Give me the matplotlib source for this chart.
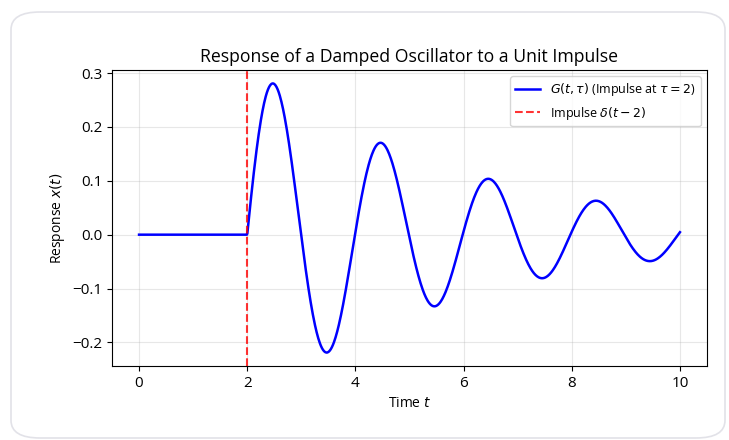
import numpy as np
import matplotlib.pyplot as plt
from matplotlib.patches import FancyBboxPatch

# parameters: impulse time, decay rate, angular frequency
tau = 2.0
gamma = 0.25
omega = 3.155
t_start, t_end = 0.0, 10.0

t = np.linspace(t_start, t_end, 1000)
s = t - tau
G = np.where(s > 0, np.exp(-gamma * s) * np.sin(omega * s) / omega, 0.0)

plt.rcParams['font.family'] = ['Open Sans', 'DejaVu Sans']

fig = plt.figure(figsize=(7.29, 4.40), dpi=100)

# rounded card behind the chart
card = FancyBboxPatch((11 / 729, 2 / 440), 714 / 729, 426 / 440,
                      boxstyle="round,pad=0,rounding_size=0.04",
                      transform=fig.transFigure, facecolor='white',
                      edgecolor='#e2e2e8', linewidth=1.2, zorder=-1)
fig.patches.append(card)

ax = fig.add_axes([112 / 729, 74 / 440, 595 / 729, 296 / 440])
ax.plot(t, G, color='blue', lw=1.8, label=r'$G(t, \tau)$ (Impulse at $\tau = 2$)')
ax.axvline(tau, color='red', ls='--', lw=1.5, alpha=0.8, label=r'Impulse $\delta(t - 2)$')

ax.set_title('Response of a Damped Oscillator to a Unit Impulse', fontsize=12.7)
ax.set_xlabel('Time $t$', fontsize=10)
ax.set_ylabel('Response $x(t)$', fontsize=10)
ax.tick_params(labelsize=11)
ax.grid(True, alpha=0.3)
ax.legend(loc='upper right', fontsize=9)

fig.savefig('out.png', dpi=100)
